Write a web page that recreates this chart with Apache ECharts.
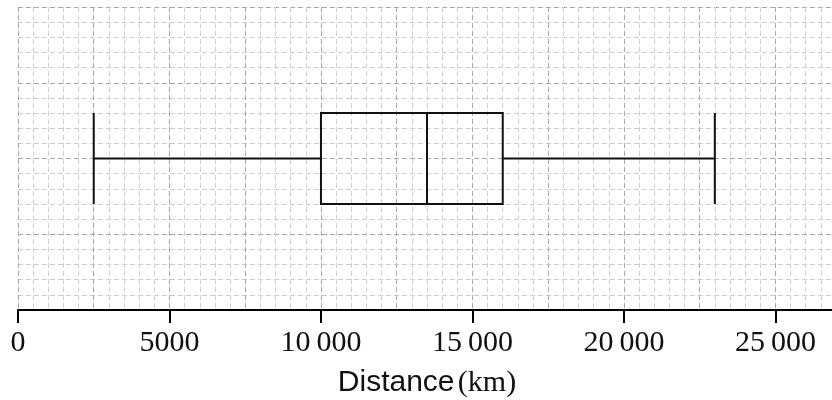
<!DOCTYPE html>
<html>
<head>
<meta charset="utf-8">
<title>distance box plot</title>
<script src="https://cdn.jsdelivr.net/npm/echarts@6/dist/echarts.min.js"></script>
</head>
<body style="margin:0">
<div id="main" style="width:832px;height:400px"></div>
<script type="text/javascript">
// five-number summary: min, Q1, median, Q3, max
var categories = ['Distance'];
var boxStats = [2500, 10000, 13500, 16000, 23000];
var xMin = 0, xMax = 27000;
var labelStep = 5000;

function fmt(v) {
  if (v % labelStep !== 0) return '';
  var s = String(v);
  if (s.length > 4) s = s.slice(0, s.length - 3) + '\u2009' + s.slice(-3);
  return s;
}

var myChart = echarts.init(document.getElementById('main'));

var minorLine = { show: true, lineStyle: { color: '#cfcfcf', width: 1, type: [5, 3] } };
var majorLine = { show: true, lineStyle: { color: '#a8a8a8', width: 1, type: [5, 3] } };
var hidden = { axisLine: { show: false }, axisTick: { show: false }, axisLabel: { show: false } };

var option = {
  backgroundColor: '#fff',
  animation: false,
  grid: { left: 18, right: -4, top: 7, bottom: 90, outerBoundsMode: 'none' },
  xAxis: [
    Object.assign({ type: 'value', position: 'bottom', min: xMin, max: xMax, interval: 500, splitLine: minorLine }, hidden),
    Object.assign({ type: 'value', position: 'bottom', min: xMin, max: xMax, interval: 2500, splitLine: majorLine }, hidden),
    {
      type: 'value', position: 'bottom', min: xMin, max: xMax, interval: labelStep,
      splitLine: { show: false },
      axisLine: { show: true, onZero: false, lineStyle: { color: '#000', width: 2 } },
      axisTick: { show: true, length: 13, lineStyle: { color: '#000', width: 2 } },
      axisLabel: {
        formatter: fmt, margin: 18, color: '#111',
        fontFamily: 'Liberation Serif', fontSize: 30
      },
      name: '{a|Distance} {b|(km)}',
      nameLocation: 'middle',
      nameGap: 58,
      nameTextStyle: {
        rich: {
          a: { fontFamily: 'Liberation Sans', fontSize: 30, color: '#111' },
          b: { fontFamily: 'Liberation Serif', fontSize: 30, color: '#111' }
        }
      }
    }
  ],
  yAxis: [
    Object.assign({ type: 'category', position: 'left', data: categories, splitLine: { show: false } }, hidden),
    Object.assign({ type: 'value', position: 'left', min: 0, max: 20, interval: 1, splitLine: minorLine }, hidden),
    Object.assign({ type: 'value', position: 'left', min: 0, max: 20, interval: 5, splitLine: majorLine }, hidden)
  ],
  series: [{
    type: 'boxplot',
    xAxisIndex: 2,
    yAxisIndex: 0,
    boxWidth: [91, 91],
    itemStyle: { color: 'rgba(0,0,0,0)', borderColor: '#111', borderWidth: 2 },
    emphasis: { disabled: true },
    data: [boxStats]
  }]
};

myChart.setOption(option);
</script>
</body>
</html>
